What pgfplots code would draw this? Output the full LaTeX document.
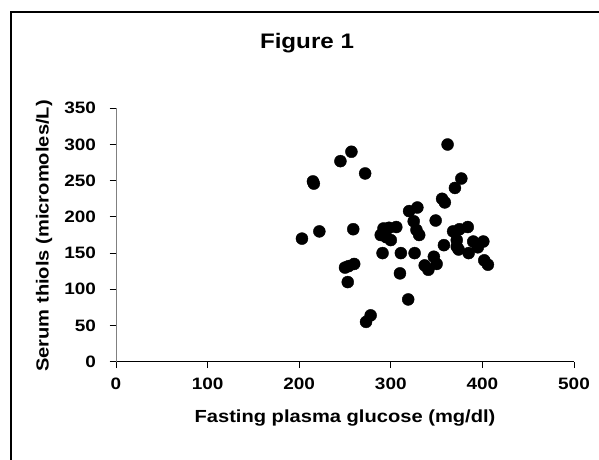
\documentclass[border=0pt]{standalone}
\usepackage{fontspec}
\setmainfont{Liberation Sans}[FakeStretch=1.15]
\usepackage{pgfplots}
\pgfplotsset{compat=1.18}

\begin{document}
\begin{tikzpicture}[x=1pt,y=1pt]
\useasboundingbox (0,0) rectangle (599,459);
\clip (0,0) rectangle (599,459);
% chart frame, cut off at right and bottom as in the original
\draw[line width=1.6pt] (10.7,-10) -- (10.7,446.7) -- (620,446.7);
\begin{axis}[
    at={(116pt,97.3pt)},
    anchor=south west,
    scale only axis,
    width=458pt,
    height=253.4pt,
    xmin=0, xmax=500,
    ymin=0, ymax=350,
    axis x line=bottom,
    axis y line=left,
    x axis line style={-, black, line width=1pt},
    y axis line style={-, gray, line width=1pt},
    xtick={0,100,...,500},
    ytick={0,50,...,350},
    tick align=outside,
    major tick length=6.5pt,
    tick style={black, line width=0.9pt},
    /pgf/number format/assume math mode=true,
    x tick label style={font=\bfseries\fontsize{16.5}{16.5}\selectfont, yshift=-6pt},
    y tick label style={font=\bfseries\fontsize{16.5}{16.5}\selectfont, xshift=-10pt},
    xlabel={Fasting plasma glucose (mg/dl)},
    ylabel={Serum thiols (micromoles/L)},
    xlabel style={font=\bfseries\fontsize{17.5}{17.5}\selectfont, at={(axis description cs:0.5,-0.222)}, anchor=center},
    ylabel style={font=\bfseries\fontsize{17.5}{17.5}\selectfont, at={(axis description cs:-0.157,0.496)}, anchor=center, rotate=0},
    title={Figure 1},
    title style={font=\bfseries\fontsize{21}{21}\selectfont, at={(axis description cs:0.417,1.235)}, anchor=center},
    clip=false,
]
\addplot[only marks, mark=*, mark size=6pt, mark options={fill=black, draw=black}] coordinates {
(203,170) (215,249) (216,246) (222,180) (245,277) (257,290) (272,260)
(259,183) (250,130) (254,132) (260,135) (253,110) (273,55) (278,64)
(289,175) (292,184) (295,172) (298,185) (300,168) (306,186)
(291,150) (311,150) (310,122) (319,86)
(320,208) (329,213) (325,194) (328,182) (331,175) (326,150)
(337,133) (341,127) (347,145) (350,135) (349,195)
(362,300) (356,225) (359,220) (358,161) (370,240) (377,253)
(368,180) (375,183) (372,168) (372,159) (374,155) (384,186)
(385,150) (390,166) (395,158) (401,166) (402,140) (406,134)
};
\end{axis}
\end{tikzpicture}
\end{document}
